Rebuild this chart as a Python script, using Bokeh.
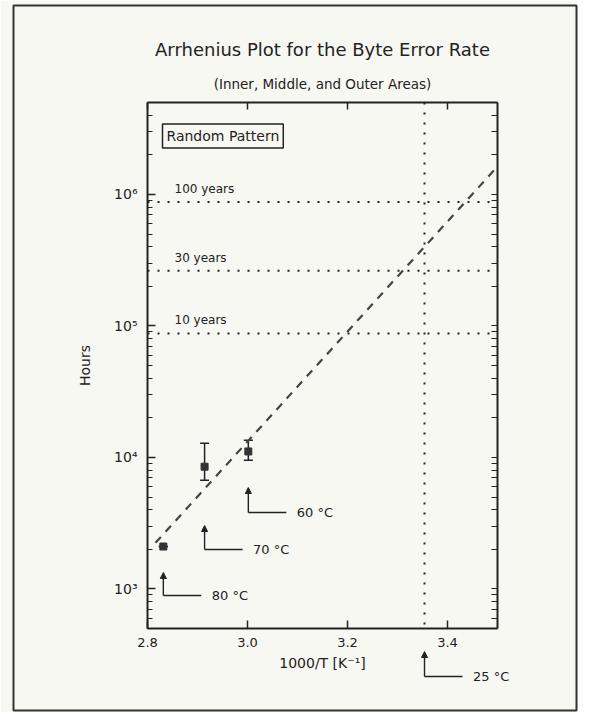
import numpy as np
from bokeh.plotting import figure
from bokeh.models import (LogAxis, LinearAxis, FixedTicker, Range1d, Label, Arrow,
                          NormalHead, Whisker, ColumnDataSource, Span, BoxAnnotation,
                          TeeHead, Title)
from bokeh.embed import file_html
from bokeh.resources import INLINE

# ---- data ----
temps_c = [80, 70, 60]
hours = [2100, 8500, 11100]
hours_lo = [2100, 6700, 9500]
hours_hi = [2100, 12800, 13500]
fit_x = [2.816, 3.5]
fit_y = [2240, 1.63e6]
year_labels = ["100 years", "30 years", "10 years"]
year_hours = [876000, 262800, 87600]
ref_temp_c = 25
x_ticks = [2.8, 3.0, 3.2, 3.4]
x_tick_labels = ["2.8", "3.0", "3.2", "3.4"]
y_ticks = [1e3, 1e4, 1e5, 1e6]
y_tick_labels = ["10³", "10⁴", "10⁵", "10⁶"]

BG = "#f8f8f3"
INK = "#222222"
FONT = "DejaVu Sans"

inv_t = [1000.0 / (t + 273.15) for t in temps_c]
ref_x = 1000.0 / (ref_temp_c + 273.15)

# layout geometry (pixels)
W, H = 578, 712
FW, FH = 350, 526
BL, BT = 147, 102
BR, BB = W - FW - BL, H - FH - BT
X0, X1 = 2.8, 3.5
Y0, Y1 = 500.0, 5e6

p = figure(x_range=Range1d(X0, X1), y_range=Range1d(Y0, Y1), y_axis_type="log",
           frame_width=FW, frame_height=FH,
           min_border_left=BL, min_border_right=BR, min_border_top=BT, min_border_bottom=BB,
           output_backend="svg", toolbar_location=None,
           background_fill_color=BG, border_fill_color=BG,
           title="Arrhenius Plot for the Byte Error Rate")
p.grid.visible = False
p.outline_line_color = None
p.title.align = "center"
p.title.text_font = FONT
p.title.text_font_size = "18px"
p.title.text_font_style = "normal"
p.title.text_color = INK
p.title.standoff = 7

minor = [m * 10.0 ** e for e in range(2, 7) for m in range(2, 10)]

def style_axis(ax):
    ax.axis_line_color = INK
    ax.axis_line_width = 2
    ax.major_tick_line_color = INK
    ax.major_tick_line_width = 1.5
    ax.minor_tick_line_color = INK
    ax.minor_tick_line_width = 1.2
    ax.major_tick_in = 8
    ax.major_tick_out = 0
    ax.minor_tick_in = 5
    ax.minor_tick_out = 0
    ax.major_label_text_font = FONT
    ax.major_label_text_color = INK
    ax.major_label_text_font_size = "13px"
    ax.axis_label_text_font = FONT
    ax.axis_label_text_color = INK
    ax.axis_label_text_font_style = "normal"

xt = FixedTicker(ticks=x_ticks, minor_ticks=[])
yt = FixedTicker(ticks=y_ticks, minor_ticks=minor)

xa = p.xaxis[0]
xa.ticker = xt
xa.major_label_overrides = dict(zip(x_ticks, x_tick_labels))
xa.axis_label = "1000/T [K⁻¹]"
xa.axis_label_text_font_size = "14px"
style_axis(xa)
xa.major_label_standoff = 9
xa.axis_label_standoff = 5

ya = p.yaxis[0]
ya.ticker = yt
ya.major_label_overrides = dict(zip(y_ticks, y_tick_labels))
ya.axis_label = "Hours"
ya.axis_label_text_font_size = "14px"
style_axis(ya)
ya.major_label_text_font_size = "14px"
ya.major_label_standoff = 10
ya.axis_label_standoff = 18

# mirrored axes: only (minor) ticks, so no labels are produced
top = LinearAxis(ticker=FixedTicker(ticks=[], minor_ticks=x_ticks))
style_axis(top)
top.minor_tick_in = 7
top.minor_tick_line_width = 1.5
p.add_layout(top, "above")
right = LogAxis(ticker=FixedTicker(ticks=[], minor_ticks=y_ticks + minor))
style_axis(right)
right.minor_tick_in = 6
p.add_layout(right, "right")

p.add_layout(Title(text="(Inner, Middle, and Outer Areas)", align="center",
                   text_font=FONT, text_font_size="13.5px", text_font_style="normal",
                   text_color=INK, standoff=21), "above")

# reference lines
for yh in year_hours:
    p.add_layout(Span(location=yh, dimension="width", line_color=INK,
                      line_dash="2 8", line_width=2))
p.add_layout(Span(location=ref_x, dimension="height", line_color=INK,
                  line_dash="2 8", line_width=2))

for lab, yh in zip(year_labels, year_hours):
    p.add_layout(Label(x=2.854, y=yh * 1.26, text=lab, text_font=FONT,
                       text_font_size="12px", text_color=INK, text_baseline="middle"))

# fit line
p.line(fit_x, fit_y, line_color="#444444", line_width=2.2, line_dash="8 7")

# data points with error bars
src = ColumnDataSource(dict(x=inv_t, y=hours, lo=hours_lo, hi=hours_hi))
p.add_layout(Whisker(source=src, base="x", upper="hi", lower="lo", dimension="height",
                     line_color=INK, line_width=1.5,
                     upper_head=TeeHead(size=9, line_color=INK, line_width=1.5),
                     lower_head=TeeHead(size=9, line_color=INK, line_width=1.5)))
p.scatter("x", "y", source=src, marker="square", size=7, fill_color="#333333",
          line_color="#333333")

# legend-like box
p.add_layout(Label(x=2.83, y=2.78e6, text="Random Pattern", text_font=FONT,
                   text_font_size="14px", text_color=INK, text_baseline="middle",
                   border_line_color=INK, border_line_width=1.5,
                   background_fill_color=BG, padding=4))

# ---- transparent overlay figure spanning the whole canvas, same data coordinates ----
dx = (X1 - X0) / FW
dly = (np.log10(Y1) - np.log10(Y0)) / FH
q = figure(x_range=Range1d(X0 - BL * dx, X1 + BR * dx),
           y_range=Range1d(10 ** (np.log10(Y0) - BB * dly), 10 ** (np.log10(Y1) + BT * dly)),
           y_axis_type="log", frame_width=W, frame_height=H, min_border=0,
           x_axis_location=None, y_axis_location=None, title_location=None,
           output_backend="svg", toolbar_location=None,
           background_fill_color=None, border_fill_color=None, outline_line_color=None,
           margin=(-H, 0, 0, 0))
q.grid.visible = False

# outer frame of the page
q.add_layout(BoxAnnotation(left=X0 - (BL - 13) * dx, right=X1 + (BR - 2) * dx,
                           top=10 ** (np.log10(Y1) + (BT - 5) * dly),
                           bottom=10 ** (np.log10(Y0) - (BB - 2) * dly),
                           fill_alpha=0, line_color="#333333", line_width=2, line_alpha=1))

# temperature markers (L-shaped arrows)
ann_x = inv_t + [ref_x]
ann_t = temps_c + [ref_temp_c]
ann_base = [891, 1995, 3811, 216]
ann_tip = [1334, 3036, 5904, 334]
for ax_, t, yb, yt_ in zip(ann_x, ann_t, ann_base, ann_tip):
    q.add_layout(Arrow(x_start=ax_, y_start=yb, x_end=ax_, y_end=yt_, line_color=INK,
                       line_width=1.4,
                       end=NormalHead(size=6, fill_color=INK, line_color=INK)))
    q.add_layout(Arrow(x_start=ax_, y_start=yb, x_end=ax_ + 0.076, y_end=yb,
                       line_color=INK, line_width=1.4, end=None))
    q.add_layout(Label(x=ax_ + 0.097, y=yb, text=f"{t} °C", text_font=FONT,
                       text_font_size="13px", text_color=INK, text_baseline="middle"))

open("out.html", "w").write(file_html([p, q], INLINE))
